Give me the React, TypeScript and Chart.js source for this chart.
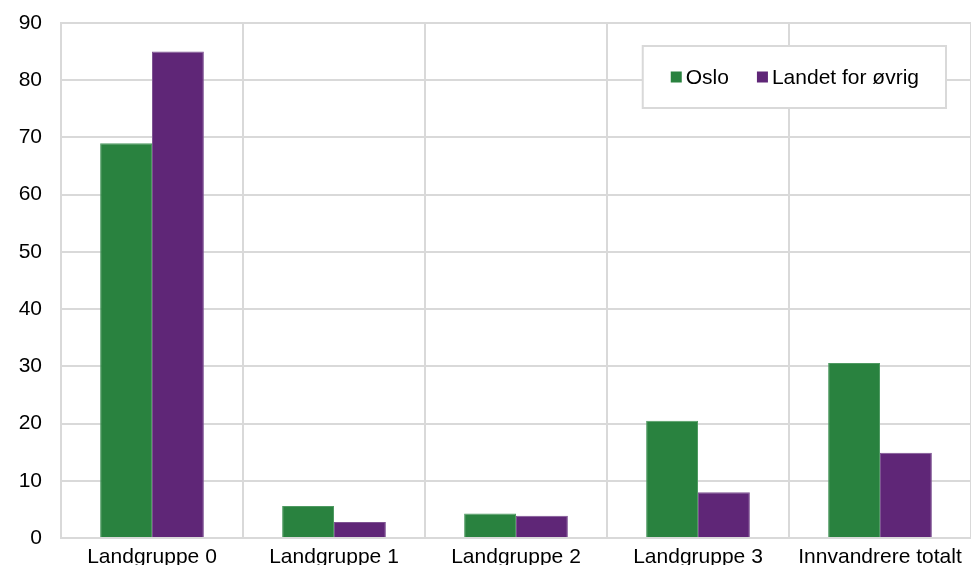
import React, { useEffect, useRef } from "react";
import { Chart, registerables } from "chart.js";

Chart.register(...registerables);

const categories = ["Landgruppe 0", "Landgruppe 1", "Landgruppe 2", "Landgruppe 3", "Innvandrere totalt"];
const osloValues = [69, 5.6, 4.3, 20.5, 30.6];
const restValues = [85, 2.8, 3.9, 8.0, 14.9];
const seriesLabels = ["Oslo", "Landet for øvrig"];
const yTicks = [0, 10, 20, 30, 40, 50, 60, 70, 80, 90];

const GREEN = "#29823F";
const PURPLE = "#5F2677";
const GREEN_EDGE = "#4f9a62";
const PURPLE_EDGE = "#7e5392";
const GRID = "#d9d9d9";
const FONT = "Liberation Sans, Arial, sans-serif";

const legendBoxPlugin = {
  id: "legendBox",
  afterDraw(chart: any) {
    const { ctx, chartArea } = chart;
    ctx.save();
    ctx.font = `21px ${FONT}`;
    const items = chart.data.datasets.map((d: any) => ({ label: d.label, color: d.backgroundColor }));
    const sq = 11;
    const gapSqText = 4;
    const padL = 28;
    const padR = 27;
    const itemGap = 28;
    let width = padL + padR;
    items.forEach((it: any, i: number) => {
      width += sq + gapSqText + ctx.measureText(it.label).width + (i > 0 ? itemGap : 0);
    });
    const height = 62;
    const right = chartArea.right - 25;
    const x0 = right - width;
    const y0 = chartArea.top + 23;
    ctx.fillStyle = "#ffffff";
    ctx.fillRect(x0, y0, width, height);
    ctx.strokeStyle = GRID;
    ctx.lineWidth = 2;
    ctx.strokeRect(x0, y0, width, height);
    let x = x0 + padL;
    const baseline = y0 + 38;
    items.forEach((it: any, i: number) => {
      if (i > 0) x += itemGap;
      ctx.fillStyle = it.color;
      ctx.fillRect(x, baseline - 12.5, sq, sq);
      x += sq + gapSqText;
      ctx.fillStyle = "#000000";
      ctx.textBaseline = "alphabetic";
      ctx.textAlign = "left";
      ctx.fillText(it.label, x, baseline);
      x += ctx.measureText(it.label).width;
    });
    ctx.restore();
  },
};

export default function App() {
  const ref = useRef<HTMLCanvasElement | null>(null);
  useEffect(() => {
    if (!ref.current) return;
    const chart = new Chart(ref.current, {
      type: "bar",
      data: {
        labels: categories,
        datasets: [
          {
            label: seriesLabels[0],
            data: osloValues,
            backgroundColor: GREEN,
            borderColor: GREEN_EDGE,
            borderWidth: 1,
            categoryPercentage: 0.57,
            barPercentage: 1,
          },
          {
            label: seriesLabels[1],
            data: restValues,
            backgroundColor: PURPLE,
            borderColor: PURPLE_EDGE,
            borderWidth: 1,
            categoryPercentage: 0.57,
            barPercentage: 1,
          },
        ],
      },
      options: {
        animation: false,
        responsive: false,
        maintainAspectRatio: false,
        layout: { padding: { top: 23, right: 0, left: 0, bottom: 0 } },
        plugins: {
          legend: { display: false },
          tooltip: { enabled: false },
        },
        scales: {
          x: {
            offset: true,
            grid: { color: GRID, lineWidth: 2, offset: true, drawTicks: false, tickLength: 0 },
            border: { color: GRID, width: 2 },
            ticks: { color: "#000", font: { family: FONT, size: 21 }, padding: 7, maxRotation: 0, autoSkip: false },
            afterFit(scale: any) {
              scale.height = 27;
              scale.paddingLeft = 0;
              scale.paddingRight = 0;
            },
          },
          y: {
            min: 0,
            max: 90,
            afterBuildTicks(scale: any) {
              scale.ticks = yTicks.map((v) => ({ value: v }));
            },
            grid: { color: GRID, lineWidth: 2, drawTicks: false, tickLength: 0 },
            border: { color: GRID, width: 2 },
            ticks: { color: "#000", font: { family: FONT, size: 21 }, padding: 19 },
            afterFit(scale: any) {
              scale.width = 61;
              scale.paddingTop = 0;
              scale.paddingBottom = 0;
            },
          },
        },
      },
      plugins: [legendBoxPlugin],
    });
    return () => chart.destroy();
  }, []);
  return (
    <div style={{ position: "fixed", left: 0, top: 0, width: 971, height: 565, background: "#fff" }}>
      <canvas ref={ref} width={971} height={565} style={{ width: 971, height: 565, display: "block" }} />
    </div>
  );
}
